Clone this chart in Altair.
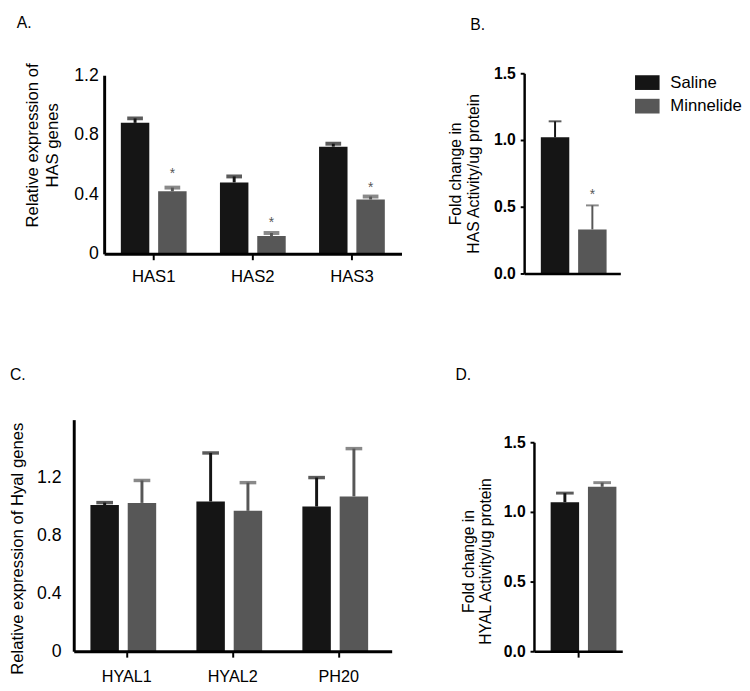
import altair as alt
import pandas as pd

FONT = "Liberation Sans"
SALINE_C = "#151515"
MINN_C = "#575757"
groups = ["Saline", "Minnelide"]
colors = [SALINE_C, MINN_C]

# Panel A: relative expression of HAS genes
has_genes = ["HAS1", "HAS2", "HAS3"]
has_saline = [0.88, 0.48, 0.72]
has_saline_err = [0.91, 0.52, 0.74]
has_minn = [0.42, 0.12, 0.365]
has_minn_err = [0.445, 0.14, 0.385]
has_star = [0.56, 0.23, 0.47]

# Panel B: HAS activity
has_act = [1.02, 0.33]
has_act_err = [1.14, 0.51]
has_act_star = [None, 0.62]

# Panel C: relative expression of Hyal genes
hyal_genes = ["HYAL1", "HYAL2", "PH20"]
hyal_saline = [1.01, 1.035, 1.0]
hyal_saline_err = [1.027, 1.37, 1.20]
hyal_minn = [1.025, 0.97, 1.07]
hyal_minn_err = [1.18, 1.165, 1.40]

# Panel D: HYAL activity
hyal_act = [1.07, 1.18]
hyal_act_err = [1.135, 1.21]


def gene_frame(genes, sal, sal_err, minn, minn_err):
    rows = []
    for i, g in enumerate(genes):
        rows.append({"cat": g, "group": "Saline", "value": sal[i], "err": sal_err[i]})
        rows.append({"cat": g, "group": "Minnelide", "value": minn[i], "err": minn_err[i]})
    return pd.DataFrame(rows)


def act_frame(name, vals, errs):
    return pd.DataFrame({"cat": [name, name], "group": groups, "value": vals, "err": errs})


dfA = gene_frame(has_genes, has_saline, has_saline_err, has_minn, has_minn_err)
starA = pd.DataFrame({"cat": has_genes, "group": ["Minnelide"] * 3, "star": has_star})
dfB = act_frame("HAS", has_act, has_act_err)
starB = pd.DataFrame({"cat": ["HAS"], "group": ["Minnelide"], "star": [has_act_star[1]]})
dfC = gene_frame(hyal_genes, hyal_saline, hyal_saline_err, hyal_minn, hyal_minn_err)
dfD = act_frame("HYAL", hyal_act, hyal_act_err)

RECT = "M-1.667,-1H1.667V1H-1.667Z"


def panel(df, domain_x, xrange, xaxis, pin, pout, ydomain, yrange, yaxis,
          cap_size, cap_thick, stem_w, legend=None, stars=None, title=None):
    xs = alt.Scale(domain=domain_x, range=xrange, paddingInner=0, paddingOuter=0)
    os_ = alt.Scale(domain=groups, paddingInner=pin, paddingOuter=pout)
    ys = alt.Scale(domain=ydomain, range=yrange, nice=False, zero=True)
    X = alt.X("cat:N", scale=xs, axis=xaxis, sort=domain_x)
    XO = alt.XOffset("group:N", scale=os_, sort=groups)
    base = alt.Chart(df)
    bars = base.mark_bar().encode(
        x=X, xOffset=XO,
        y=alt.Y("value:Q", scale=ys, axis=yaxis),
        color=alt.Color("group:N", scale=alt.Scale(domain=groups, range=colors),
                        legend=legend, sort=groups),
    )
    stems = base.mark_rule(strokeWidth=stem_w).encode(
        x=X, xOffset=XO,
        y=alt.Y("value:Q"), y2="err:Q",
        stroke=alt.Stroke("group:N", scale=alt.Scale(domain=groups, range=colors), legend=None),
    )
    caps = base.mark_tick(orient="horizontal", size=cap_size, thickness=cap_thick).encode(
        x=X, xOffset=XO,
        y=alt.Y("err:Q"),
        fill=alt.Fill("group:N", scale=alt.Scale(domain=groups, range=colors), legend=None),
    )
    layers = [bars, stems, caps]
    if stars is not None:
        st = alt.Chart(stars).mark_text(text="*", fontSize=14, dy=4, color=MINN_C, font=FONT).encode(
            x=X, xOffset=XO, y=alt.Y("star:Q"))
        layers.append(st)
    return alt.layer(*layers, title=title)


def ttl(text, dx, dy):
    return alt.TitleParams(text=text, anchor="start", frame="group", dx=dx, dy=dy, offset=0,
                           fontSize=16, fontWeight="normal", font=FONT, color="black")


common_x = dict(title=None, labelAngle=0, labelFont=FONT, labelColor="black",
                domainColor="black", tickColor="black", grid=False, zindex=1)

# Panel A
axA_x = alt.Axis(domainWidth=3, tickWidth=2, tickSize=6, labelPadding=9, labelFontSize=17,
                 **common_x)
axA_y = alt.Axis(values=[0, 0.4, 0.8, 1.2], format="~g", offset=-31, ticks=False, tickSize=0,
                 labelPadding=6, labelFontSize=18, labelFont=FONT, labelColor="black",
                 domainWidth=3, domainColor="black", grid=False, zindex=1,
                 title=["Relative expression of", "HAS genes"], titleFontSize=17,
                 titleFont=FONT, titleFontWeight="normal", titleColor="black",
                 titleX=-64, titleY=73, titleLineHeight=20)
A = panel(dfA, has_genes, [31, 334], axA_x, 0.237, 0.447, [0, 1.2], [184, 2], axA_y,
          16, 4, 3, stars=starA, title=ttl("A.", -58, -33)).properties(width=334, height=184)

# Panel B
axB_x = alt.Axis(labels=False, ticks=False, domainWidth=2.5, **common_x)
axB_y = alt.Axis(values=[0, 0.5, 1.0, 1.5], format=".1f", tickSize=4, tickWidth=2,
                 labelPadding=5, labelFontSize=16, labelFontWeight="bold", labelFont=FONT,
                 labelColor="black", domainWidth=2.5, domainColor="black", tickColor="black",
                 grid=False, zindex=1,
                 title=["Fold change in", "HAS Activity/ug protein"], titleFontSize=16,
                 titleFont=FONT, titleFontWeight="normal", titleColor="black",
                 titleX=-62, titleY=102, titleLineHeight=18)
legB = alt.Legend(orient="none", legendX=117, legendY=1, title=None, symbolType=RECT,
                  symbolSize=225, symbolStrokeWidth=0, labelFontSize=17, labelFont=FONT,
                  labelColor="black", labelOffset=15, rowPadding=6, padding=0)
B = panel(dfB, ["HAS"], [0, 98], axB_x, 0.273, 0.126, [0, 1.5], [204, 0], axB_y,
          13, 2, 2, legend=legB, stars=starB, title=ttl("B.", -55, -33)).properties(width=98, height=204)

# Panel C
axC_x = alt.Axis(domainWidth=3, tickWidth=2, tickSize=6, labelPadding=12, labelFontSize=16.5,
                 **common_x)
axC_y = alt.Axis(values=[0, 0.4, 0.8, 1.2], format="~g", ticks=False, tickSize=0,
                 labelPadding=13, labelFontSize=18, labelFont=FONT, labelColor="black",
                 domainWidth=3, domainColor="black", grid=False, zindex=1,
                 title="Relative expression of Hyal genes", titleFontSize=17,
                 titleFont=FONT, titleFontWeight="normal", titleColor="black",
                 titleX=-48, titleY=131)
C = panel(dfC, hyal_genes, [0, 324], axC_x, 0.247, 0.457, [0, 1.6], [236, 0], axC_y,
          17, 3.5, 3, title=ttl("C.", -65, -37)).properties(width=324, height=236)

# Panel D
axD_x = alt.Axis(labels=False, tickSize=6, tickWidth=2, domainWidth=2.5, **common_x)
axD_y = alt.Axis(values=[0, 0.5, 1.0, 1.5], format=".1f", offset=-10, tickSize=4, tickWidth=2,
                 labelPadding=5, labelFontSize=16, labelFontWeight="bold", labelFont=FONT,
                 labelColor="black", domainWidth=2.5, domainColor="black", tickColor="black",
                 grid=False, zindex=1,
                 title=["Fold change in", "HYAL Activity/ug protein"], titleFontSize=16,
                 titleFont=FONT, titleFontWeight="normal", titleColor="black",
                 titleX=-59, titleY=144, titleLineHeight=18)
D = panel(dfD, ["HYAL"], [10, 100], axD_x, 0.283, 0.12, [0, 1.5], [236, 23], axD_y,
          18, 3, 3, title=ttl("D.", -70, -37)).properties(width=100, height=236)

chart = alt.concat(
    A, B, C, D, columns=2, spacing={"row": 149, "column": 125}, bounds="flush", align="each"
).resolve_scale(color="independent").configure_view(stroke=None).properties(padding=0)

chart.save("out.html", embed_options={"renderer": "svg", "actions": False})
